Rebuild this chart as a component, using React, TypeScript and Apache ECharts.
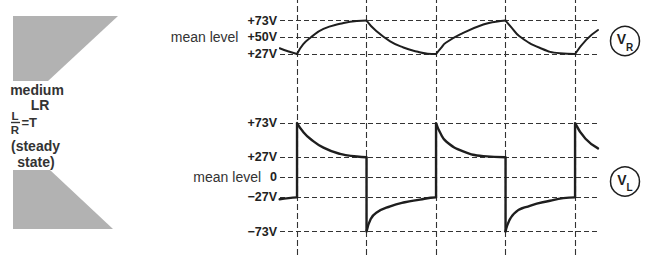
import React, { useEffect, useRef } from 'react';
import * as echarts from 'echarts';

// ---------- data (time in units of T, voltages in V) ----------
const halfPeriods = [0, 1, 2, 3, 4];
const vrLevels = [27, 50, 73];
const vlLevels = [73, 27, 0, -27, -73];
const vrMean = 50;
const vlMean = 0;

const vrLead = [[-0.25, 35], [-0.12, 30.5], [0, 27]];
const vrRise1 = [[0, 27], [0.09, 40.5], [0.2, 50], [0.38, 61.5], [0.62, 68.5], [0.86, 72.5], [1, 73]];
const vrFall1 = [[1, 73], [1.14, 58.5], [1.34, 44.5], [1.53, 36], [1.72, 30.5], [1.88, 27.5], [2, 27]];
const vrRise2 = [[2, 27], [2.07, 35], [2.14, 42.5], [2.39, 56], [2.68, 67.5], [2.86, 71.5], [3, 73]];
const vrFall2 = [[3, 73], [3.09, 63], [3.2, 51.5], [3.49, 35.6], [3.78, 28], [4, 27]];
const vrRise3 = [[4, 27], [4.16, 46.5], [4.33, 60]];

const vlLead = [[-0.25, -29.5], [-0.12, -28], [0, -27]];
const vlDecay1 = [[0, 73], [0.09, 61], [0.19, 52], [0.38, 40], [0.62, 31.5], [0.86, 28], [1, 27]];
const vlRecover1 = [[1, -73], [1.06, -56], [1.14, -47.5], [1.34, -39], [1.55, -33.5], [1.77, -30], [1.92, -27.5], [2, -27]];
const vlDecay2 = [[2, 73], [2.06, 60], [2.15, 48], [2.39, 35], [2.68, 28.5], [3, 27]];
const vlRecover2 = [[3, -73], [3.12, -49], [3.36, -38], [3.64, -31.5], [3.83, -28], [4, -27]];
const vlDecay3 = [[4, 73], [4.15, 52], [4.33, 39]];
// vertical steps of V_L: [time, from, to]
const vlSteps = [[0, -27, 73], [1, 27, -73], [2, -27, 73], [3, 27, -73], [4, -27, 73]];

const INK = '#1e1e1e';
const GUIDE = '#333';
const SHADE = '#b2b2b2';
const FONT = "'Liberation Sans', Arial, Helvetica, sans-serif";

const fmtVolt = (v: number) => (v > 0 ? `+${v}V` : v < 0 ? `\u2212${-v}V` : '0');

export default function App() {
  const ref = useRef<HTMLDivElement>(null);
  useEffect(() => {
    const chart = echarts.init(ref.current!, null, { renderer: 'svg' });

    const curve = (data: number[][], gi: number, width: number) => ({
      type: 'line',
      xAxisIndex: gi,
      yAxisIndex: gi,
      data,
      smooth: true,
      symbol: 'none',
      silent: true,
      clip: false,
      z: 5,
      lineStyle: { color: INK, width, cap: 'round', join: 'round' },
    });
    const straight = (data: number[][], gi: number, width: number) => ({
      type: 'line',
      xAxisIndex: gi,
      yAxisIndex: gi,
      data,
      smooth: false,
      symbol: 'none',
      silent: true,
      clip: false,
      z: 5,
      lineStyle: { color: INK, width },
    });

    const xAxisBase = {
      type: 'value',
      min: -0.245,
      max: 4.33,
      show: false,
    };

    const labelRich = {
      m: { fontFamily: FONT, fontSize: 14, color: '#333', fontWeight: 'normal' },
      g: { width: 9 },
      v: { fontFamily: FONT, fontSize: 12.5, fontWeight: 'bold', color: '#222' },
    };

    const yLabel = (levels: number[], mean: number) => ({
      show: true,
      customValues: levels,
      margin: 3,
      fontFamily: FONT,
      fontSize: 12.5,
      fontWeight: 'bold',
      color: '#222',
      rich: labelRich,
      formatter: (v: number) =>
        v === mean ? `{m|mean level}{g|}{v|${fmtVolt(v)}}` : `{v|${fmtVolt(v)}}`,
    });

    const guideLine = (gi: number, data: any[], dash: number[]) => ({
      type: 'line',
      xAxisIndex: gi,
      yAxisIndex: gi,
      data: [],
      silent: true,
      z: 2,
      markLine: {
        silent: true,
        symbol: ['none', 'none'],
        label: { show: false },
        animation: false,
        lineStyle: { type: dash, color: GUIDE, width: 1.1 },
        data,
      },
    });

    const txt = (x: number, y: number, text: string, size: number, align = 'center') => ({
      type: 'text',
      x,
      y,
      style: {
        text,
        font: `bold ${size}px ${FONT}`,
        fill: '#333',
        align,
        verticalAlign: 'middle',
        textAlign: align,
        textVerticalAlign: 'middle',
      },
    });

    const circleLabel = (y: number, sub: string) => ({
      type: 'text',
      x: 625,
      y,
      style: {
        text: `{v|V}{s|${sub}}`,
        align: 'center',
        verticalAlign: 'middle',
        textAlign: 'center',
        textVerticalAlign: 'middle',
        rich: {
          v: { font: `bold 14px ${FONT}`, fill: INK, color: INK, lineHeight: 16, verticalAlign: 'top' },
          s: { font: `bold 10px ${FONT}`, fill: INK, color: INK, lineHeight: 20, verticalAlign: 'bottom' },
        },
      },
    });

    const option: any = {
      animation: false,
      backgroundColor: '#ffffff',
      grid: [
        { left: 280, width: 318, top: 0.9, height: 65.5 },
        { left: 280, width: 318, top: 110.5, height: 133.7 },
        { left: 280, width: 318, top: 0, height: 255 },
      ],
      xAxis: [
        { ...xAxisBase, gridIndex: 0 },
        { ...xAxisBase, gridIndex: 1 },
        { ...xAxisBase, gridIndex: 2 },
      ],
      yAxis: [
        {
          type: 'value', gridIndex: 0, min: 10, max: 100,
          axisLine: { show: false }, axisTick: { show: false }, splitLine: { show: false },
          axisLabel: yLabel(vrLevels, vrMean),
        },
        {
          type: 'value', gridIndex: 1, min: -90, max: 90,
          axisLine: { show: false }, axisTick: { show: false }, splitLine: { show: false },
          axisLabel: yLabel(vlLevels, vlMean),
        },
        { type: 'value', gridIndex: 2, min: 0, max: 1, show: false },
      ],
      series: [
        guideLine(2, halfPeriods.map((t) => ({ xAxis: t })), [6, 3]),
        guideLine(0, vrLevels.map((v) => ({ yAxis: v })), [5, 3]),
        guideLine(1, vlLevels.map((v) => ({ yAxis: v })), [5, 3]),
        curve(vrLead, 0, 2),
        curve(vrRise1, 0, 2),
        curve(vrFall1, 0, 2),
        curve(vrRise2, 0, 2),
        curve(vrFall2, 0, 2),
        curve(vrRise3, 0, 2),
        curve(vlLead, 1, 2.4),
        curve(vlDecay1, 1, 2.4),
        curve(vlRecover1, 1, 2.4),
        curve(vlDecay2, 1, 2.4),
        curve(vlRecover2, 1, 2.4),
        curve(vlDecay3, 1, 2.4),
        ...vlSteps.map(([t, a, b]) => straight([[t, a], [t, b]], 1, 2.4)),
      ],
      graphic: [
        { type: 'polygon', shape: { points: [[13, 16], [118, 16], [48, 81], [13, 81]] }, style: { fill: SHADE } },
        { type: 'polygon', shape: { points: [[13, 170], [50, 170], [113, 229], [13, 229]] }, style: { fill: SHADE } },
        txt(37, 90, 'medium', 14),
        txt(40, 104.5, 'LR', 14),
        txt(15, 115.5, 'L', 11.5),
        { type: 'line', shape: { x1: 11, y1: 122.5, x2: 20, y2: 122.5 }, style: { stroke: '#333', lineWidth: 1.4 } },
        txt(15, 129.5, 'R', 11.5),
        txt(21.5, 122, '=T', 13, 'left'),
        txt(35.5, 146, '(steady', 14),
        txt(36, 162, 'state)', 14),
        { type: 'circle', shape: { cx: 625, cy: 41, r: 14.5 }, style: { fill: 'none', stroke: INK, lineWidth: 1.5 } },
        { type: 'circle', shape: { cx: 625, cy: 181.5, r: 14.5 }, style: { fill: 'none', stroke: INK, lineWidth: 1.5 } },
        circleLabel(42, 'R'),
        circleLabel(182.5, 'L'),
      ],
    };

    chart.setOption(option);
    return () => chart.dispose();
  }, []);

  return (
    <div
      ref={ref}
      style={{ position: 'fixed', left: 0, top: 0, width: 661, height: 255, background: '#fff' }}
    />
  );
}
